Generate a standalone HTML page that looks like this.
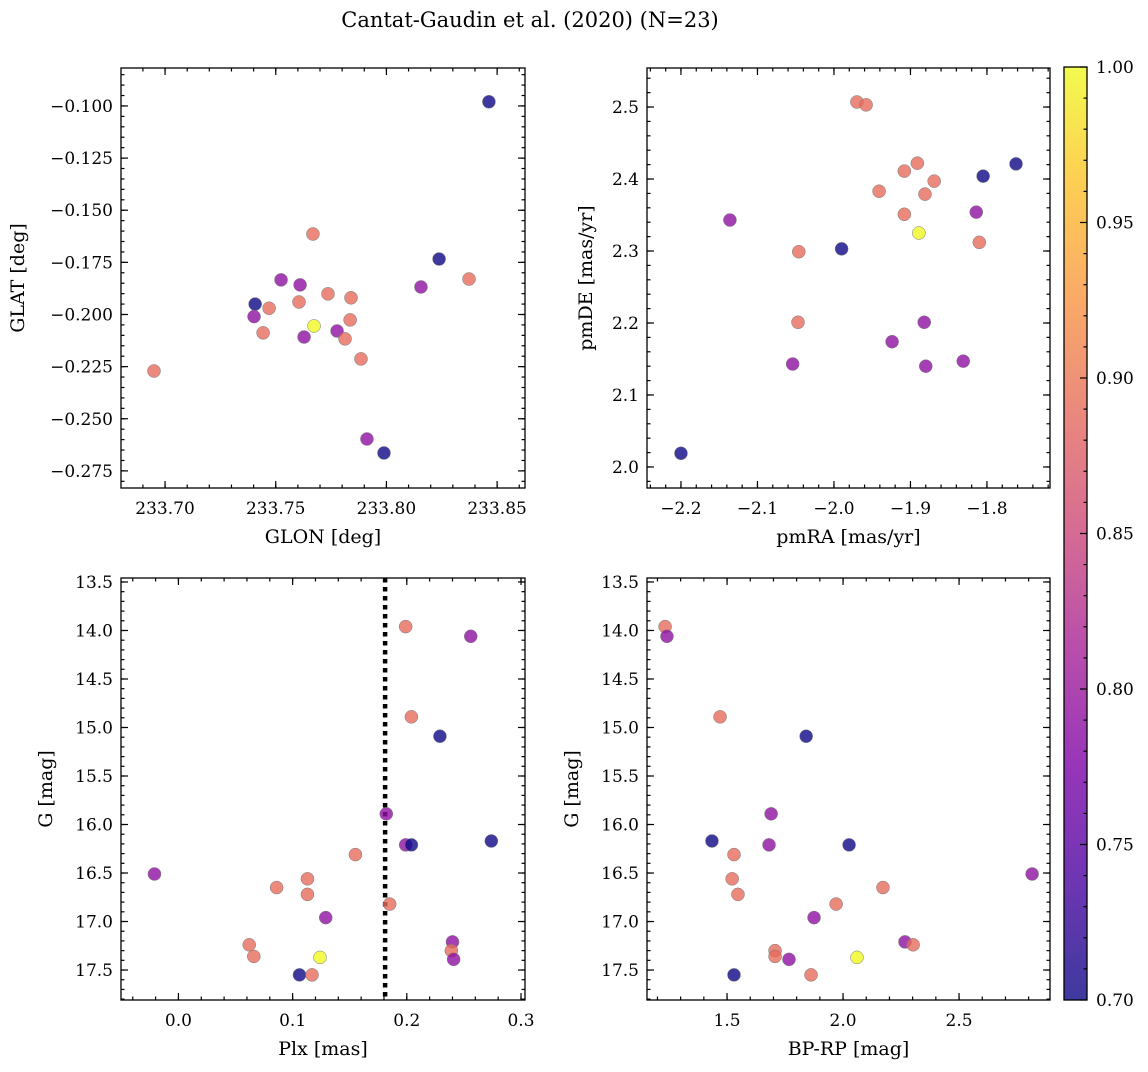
<!DOCTYPE html>
<html><head><meta charset="utf-8"><style>
body{margin:0;background:#fff;}
svg text{font-family:"DejaVu Serif","Liberation Serif",serif;fill:#000;}
</style></head><body>
<svg id="fig" width="1148" height="1067" xmlns="http://www.w3.org/2000/svg">
<text x="530" y="27" font-size="21" text-anchor="middle">Cantat-Gaudin et al. (2020) (N=23)</text>
</svg>
<script>
// ---- data ----
const tlGlon=[233.8463,233.7668,233.8238,233.8373,233.8156,233.7524,233.7610,233.7736,233.7840,233.7407,233.7605,233.7470,233.7402,233.7836,233.7673,233.7777,233.7443,233.7628,233.7813,233.7885,233.6950,233.7912,233.7989];
const tlGlat=[-0.098,-0.1614,-0.1734,-0.183,-0.1868,-0.1834,-0.1858,-0.1901,-0.192,-0.195,-0.194,-0.197,-0.201,-0.2026,-0.2055,-0.2079,-0.2088,-0.2108,-0.2117,-0.2213,-0.2271,-0.2597,-0.2664];
const tlProb=[0.70,0.89,0.70,0.89,0.79,0.79,0.79,0.89,0.89,0.70,0.89,0.89,0.79,0.89,1.00,0.79,0.89,0.79,0.89,0.89,0.89,0.79,0.70];
const trPmra=[-1.970,-1.958,-1.891,-1.762,-1.908,-1.869,-1.805,-1.941,-1.881,-1.814,-1.908,-2.136,-1.889,-1.810,-1.990,-2.046,-2.047,-1.882,-1.924,-2.054,-1.880,-1.831,-2.200];
const trPmde=[2.507,2.503,2.422,2.421,2.411,2.397,2.404,2.383,2.379,2.354,2.351,2.343,2.325,2.312,2.303,2.299,2.201,2.201,2.174,2.143,2.140,2.147,2.019];
const trProb=[0.89,0.89,0.89,0.70,0.89,0.89,0.70,0.89,0.89,0.79,0.89,0.79,1.00,0.89,0.70,0.89,0.89,0.79,0.79,0.79,0.79,0.79,0.70];
const gMag=[13.96,14.06,14.89,15.09,15.89,16.17,16.21,16.21,16.31,16.51,16.56,16.65,16.72,16.82,16.96,17.21,17.24,17.30,17.36,17.37,17.39,17.55,17.55];
const plx=[0.199,0.256,0.204,0.229,0.182,0.274,0.199,0.204,0.155,-0.021,0.113,0.086,0.113,0.185,0.129,0.240,0.062,0.239,0.066,0.124,0.241,0.106,0.117];
const bprp=[1.233,1.241,1.470,1.841,1.690,1.435,1.681,2.026,1.530,2.815,1.522,2.172,1.547,1.970,1.875,2.267,2.302,1.707,1.707,2.060,1.767,1.530,1.862];
const gProb=[0.89,0.79,0.89,0.70,0.79,0.70,0.79,0.70,0.89,0.79,0.89,0.89,0.89,0.89,0.79,0.79,0.89,0.89,0.89,1.00,0.79,0.70,0.89];
const plxLine=0.181;
const cbTicks=[0.70,0.75,0.80,0.85,0.90,0.95,1.00];

const NS="http://www.w3.org/2000/svg";
const svg=document.getElementById('fig');
function el(t,a,p){const e=document.createElementNS(NS,t);for(const k in a)e.setAttribute(k,a[k]);(p||svg).appendChild(e);return e;}
const plasma=[[0,[13,8,135]],[0.13,[75,3,161]],[0.25,[125,3,168]],[0.38,[168,34,150]],[0.5,[203,70,121]],[0.63,[229,107,93]],[0.75,[248,148,65]],[0.88,[253,195,40]],[1,[240,249,33]]];
function cmap(v){let t=Math.max(0,Math.min(1,(v-0.7)/0.3));for(let i=1;i<plasma.length;i++){if(t<=plasma[i][0]){const a=plasma[i-1],b=plasma[i];const f=(t-a[0])/(b[0]-a[0]);const c=a[1].map((x,j)=>Math.round(x+(b[1][j]-x)*f));return `rgb(${c})`;}}return 'rgb(240,249,33)';}
function fmt(v,d){let s=v.toFixed(d);if(s.startsWith('-'))s='\u2212'+s.slice(1);return s;}

function panel(o){
  const g=el('g',{});
  
  
  const sx=v=>o.x0+(v-o.xmin)/(o.xmax-o.xmin)*(o.x1-o.x0);
  const sy=o.yinv? v=>o.y0+(v-o.ymin)/(o.ymax-o.ymin)*(o.y1-o.y0) : v=>o.y1-(v-o.ymin)/(o.ymax-o.ymin)*(o.y1-o.y0);
  const tk=el('g',{stroke:'#000','stroke-width':1.2},g);
  
  function ticks(min,max,step,len,isX,lab,dec){
    const s=Math.ceil(min/step-1e-9);
    for(let i=s;i*step<=max+1e-9;i++){const v=i*step;
      if(isX){const x=sx(v);el('line',{x1:x,x2:x,y1:o.y1,y2:o.y1-len},tk);el('line',{x1:x,x2:x,y1:o.y0,y2:o.y0+len},tk);
        if(lab){const t=el('text',{x:x,y:o.y1+26,'font-size':17,'text-anchor':'middle'},g);t.textContent=fmt(v,dec);}}
      else{const y=sy(v);el('line',{x1:o.x0,x2:o.x0+len,y1:y,y2:y},tk);el('line',{x1:o.x1,x2:o.x1-len,y1:y,y2:y},tk);
        if(lab){const t=el('text',{x:o.x0-8,y:y+6,'font-size':17,'text-anchor':'end'},g);t.textContent=fmt(v,dec);}}
    }}
  ticks(o.xmin,o.xmax,o.xmaj,7,true,true,o.xdec);ticks(o.xmin,o.xmax,o.xmin_,3.5,true,false);
  ticks(Math.min(o.ymin,o.ymax),Math.max(o.ymin,o.ymax),o.ymaj,7,false,true,o.ydec);ticks(Math.min(o.ymin,o.ymax),Math.max(o.ymin,o.ymax),o.ymin_,3.5,false,false);
  if(o.vline!==undefined){const l=el('line',{x1:sx(o.vline),x2:sx(o.vline),y1:o.y0,y2:o.y1,stroke:'#000','stroke-width':4.5,'stroke-dasharray':'4.5 4.5'},g);}
  for(let i=0;i<o.xs.length;i++){
    const c=el('circle',{cx:sx(o.xs[i]),cy:sy(o.ys[i]),r:6.5,fill:cmap(o.ps[i]),'fill-opacity':0.8,stroke:'#777','stroke-width':0.5},g);
    
    
  }
  const fr=el('rect',{x:o.x0,y:o.y0,width:o.x1-o.x0,height:o.y1-o.y0,fill:'none',stroke:'#000','stroke-width':1.3},g);
  
  const xt=el('text',{x:(o.x0+o.x1)/2,y:o.y1+55,'font-size':19,'text-anchor':'middle'},g);xt.textContent=o.xl;
  
  const yx=o.ylx,yy=(o.y0+o.y1)/2;
  const yt=el('text',{x:yx,y:yy,'font-size':19,'text-anchor':'middle',transform:`rotate(-90 ${yx} ${yy})`},g);yt.textContent=o.yl;
  
}
panel({name:'glon-glat-panel',x0:121,x1:525,y0:68,y1:488,xmin:233.6801,xmax:233.8626,ymin:-0.2832,ymax:-0.0818,xmaj:0.05,xmin_:0.01,ymaj:0.025,ymin_:0.005,xdec:2,ydec:3,xs:tlGlon,ys:tlGlat,ps:tlProb,xl:'GLON [deg]',yl:'GLAT [deg]',ylx:24});
panel({name:'proper-motion-panel',x0:647,x1:1050,y0:68,y1:488,xmin:-2.2444,xmax:-1.7176,ymin:1.9708,ymax:2.5542,xmaj:0.1,xmin_:0.02,ymaj:0.1,ymin_:0.02,xdec:1,ydec:1,xs:trPmra,ys:trPmde,ps:trProb,xl:'pmRA [mas/yr]',yl:'pmDE [mas/yr]',ylx:592});
panel({name:'plx-g-panel',x0:121,x1:525,y0:578,y1:1000,yinv:true,xmin:-0.0503,xmax:0.3035,ymin:13.459,ymax:17.809,xmaj:0.1,xmin_:0.02,ymaj:0.5,ymin_:0.1,xdec:1,ydec:1,xs:plx,ys:gMag,ps:gProb,xl:'Plx [mas]',yl:'G [mag]',ylx:52,vline:plxLine});
panel({name:'cmd-panel',x0:647,x1:1050,y0:578,y1:1000,yinv:true,xmin:1.155,xmax:2.892,ymin:13.459,ymax:17.809,xmaj:0.5,xmin_:0.1,ymaj:0.5,ymin_:0.1,xdec:1,ydec:1,xs:bprp,ys:gMag,ps:gProb,xl:'BP-RP [mag]',yl:'G [mag]',ylx:578});
const cb=el('g',{});
const defs=el('defs',{},cb);const lg=el('linearGradient',{id:'pg',x1:0,y1:1,x2:0,y2:0},defs);
plasma.forEach(s=>el('stop',{offset:s[0],'stop-color':`rgb(${s[1]})`,'stop-opacity':0.8},lg));
const cx0=1064,cx1=1087,cy0=67,cy1=1000;
el('rect',{x:cx0,y:cy0,width:cx1-cx0,height:cy1-cy0,fill:'url(#pg)'},cb);
const cys=v=>cy1-(v-0.7)/0.3*(cy1-cy0);
for(let i=70;i<=100;i++){const y=cys(i/100);el('line',{x1:cx1,x2:cx1-(i%5===0?7:3.5),y1:y,y2:y,stroke:'#000','stroke-width':1.2},cb);}
cbTicks.forEach(v=>{const t=el('text',{x:cx1+9,y:cys(v)+6,'font-size':17},cb);t.textContent=v.toFixed(2);});
el('rect',{x:cx0,y:cy0,width:cx1-cx0,height:cy1-cy0,fill:'none',stroke:'#000','stroke-width':1.3},cb);
</script>
</body></html>
